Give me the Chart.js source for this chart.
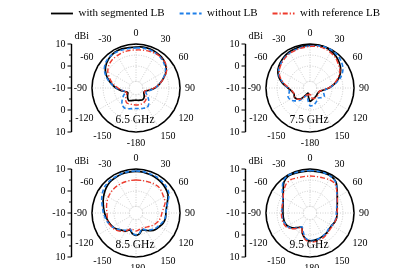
<!DOCTYPE html>
<html><head><meta charset="utf-8">
<script src="https://cdn.jsdelivr.net/npm/chart.js@4/dist/chart.umd.min.js"></script>
<style>
html,body{margin:0;padding:0;background:#fff;width:417px;height:268px;overflow:hidden;}
body{position:relative;}
.pan{position:absolute;}
canvas{display:block;}
</style></head><body>
<script>
// ---------- data ----------
const angles = [0,10,20,30,40,50,60,70,80,90,100,110,120,130,140,150,160,170,180,190,200,210,220,230,240,250,260,270,280,290,300,310,320,330,340,350];
const angleTickLabels = ['0','30','60','90','120','150','-180','-150','-120','-90','-60','-30'];
const gridValues = [-10,-7,0,5,10];
const axisTickValues = [10,0,-10,0,10];
const axisTickSides = [-1,-1,0,1,1];
const axisMinorValues = [5,-5];
const seriesNames = ['with segmented LB','without LB','with reference LB'];
const freqLabels = ['6.5 GHz','7.5 GHz','8.5 GHz','9.5 GHz'];

const seg65  = [8.6,8.9,8.9,8.6,8.2,7.3,5.9,3.4,0.9,-1.4,-4.1,-5.7,-5.9,-5.2,-4.3,-3.9,-4.1,-4.3,-4.5,-4.3,-3.9,-3.4,-4.1,-5.0,-5.7,-5.0,-3.2,-0.9,1.4,3.9,6.1,7.5,8.4,8.9,8.9,8.6];
const noLB65 = [8.2,8.4,8.4,8.2,7.7,6.8,5.5,3.2,0.9,-1.4,-3.6,-5.2,-4.5,-2.7,-0.9,0.2,-0.2,-0.5,-0.7,-0.5,0,0.5,-0.2,-1.8,-3.6,-4.8,-3.6,-1.1,1.6,4.3,6.6,8.0,8.6,8.6,8.4,8.2];
const ref65  = [7.3,7.5,7.7,8.0,8.0,7.5,6.1,3.6,0.9,-1.8,-4.5,-5.9,-5.5,-4.1,-3.0,-2.5,-2.3,-2.3,-2.3,-2.3,-2.3,-2.0,-2.7,-4.1,-5.2,-5.0,-3.6,-1.8,0.5,2.7,4.8,6.1,6.8,7.0,7.3,7.3];

const seg75  = [9.5,9.8,9.8,9.3,8.6,7.5,6.1,4.1,1.4,-1.4,-4.1,-5.5,-5.7,-5.7,-5.5,-5.2,-5.0,-4.5,-3.9,-5.9,-7.5,-6.4,-3.6,-2.3,-1.8,-2.3,-1.6,0,2.7,5.2,6.8,7.7,8.4,8.9,9.1,9.3];
const noLB75 = [9.1,9.5,9.8,9.8,9.5,8.6,7.3,5.0,1.8,-1.4,-3.6,-3.4,-2.5,-3.2,-4.1,-3.6,-2.7,-2.0,-2.0,-4.5,-6.4,-5.5,-2.7,-0.9,0.5,0.7,-0.5,0,2.3,4.8,6.4,7.3,8.0,8.4,8.6,8.9];
const ref75  = [8.9,9.1,9.1,8.6,8.0,6.8,5.7,3.6,1.1,-1.6,-4.3,-5.5,-5.5,-5.2,-5.0,-5.0,-4.8,-5.5,-7.7,-6.8,-6.8,-5.9,-3.4,-2.3,-2.0,-2.3,-1.8,-0.5,2.0,4.5,6.1,7.0,7.7,8.2,8.4,8.6];

const seg85  = [8.9,8.9,8.6,8.4,8.0,7.5,6.8,5.2,4.1,3.6,3.6,3.2,2.3,1.6,0.5,-0.9,-1.8,-0.5,0.2,-0.5,-1.8,-0.5,0.2,1.4,2.3,3.0,3.6,4.3,5.0,5.9,6.8,7.7,8.4,8.6,8.9,8.9];
const noLB85 = [9.1,9.1,8.9,8.9,8.6,8.2,7.3,5.5,4.1,3.6,3.4,2.7,1.8,1.1,0,-1.1,-2.3,-0.7,0,-0.7,-2.3,-0.9,0,1.4,2.5,3.4,4.1,4.8,5.5,6.6,7.7,8.6,8.9,8.9,9.1,9.1];
const ref85  = [5.0,5.0,5.2,5.5,5.7,5.2,4.5,4.1,2.7,1.8,1.4,0.9,0,-0.9,-1.8,-2.3,-2.7,-2.3,-1.8,-2.3,-2.3,-0.5,0.9,2.0,2.7,3.2,3.2,3.2,3.6,4.1,4.5,4.8,5.0,5.0,5.0,5.0];

const seg95  = [9.1,9.1,9.3,9.3,8.4,6.1,4.3,3.2,2.5,2.3,2.3,2.0,1.4,1.4,1.8,2.0,2.3,2.5,2.7,1.8,0,-2.5,-1.4,0.5,1.8,2.3,2.3,2.3,2.5,3.0,4.1,5.9,8.4,9.5,9.3,9.1];
const noLB95 = [9.3,9.3,9.3,9.1,8.2,5.9,4.1,3.0,2.3,2.0,2.0,1.8,1.4,1.1,1.6,2.0,2.3,2.5,2.5,1.6,-0.9,-2.7,-1.1,0.9,2.0,2.5,2.7,2.7,3.0,3.2,4.3,6.4,8.9,9.8,9.5,9.3];
const ref95  = [6.8,6.8,7.0,7.5,7.5,5.9,4.3,3.2,2.7,2.3,2.3,2.0,1.8,1.8,2.3,2.7,3.0,3.2,3.2,2.3,0,-2.3,-0.9,1.1,2.5,3.0,3.0,3.0,3.0,3.2,4.1,5.5,7.0,7.5,7.0,6.8];

// ---------- styles ----------
const FONT = '"Liberation Serif","Times New Roman",serif';
const seriesStyles = [
  {color:'#000000', dash:[], width:1.7, order:3},
  {color:'#1f7fe8', dash:[4,2.5], width:1.6, order:2},
  {color:'#ee3a2c', dash:[5,2,1.2,2], width:1.4, order:1}
];
const R = 44;
const panels = [
  {freq:freqLabels[0], data:[seg65,noLB65,ref65], cx:136, cy:87.5},
  {freq:freqLabels[1], data:[seg75,noLB75,ref75], cx:310, cy:87.5},
  {freq:freqLabels[2], data:[seg85,noLB85,ref85], cx:136, cy:212.7},
  {freq:freqLabels[3], data:[seg95,noLB95,ref95], cx:310, cy:212.7}
];

const decor = {
  id:'decor',
  beforeDatasetsDraw(chart){
    const s = chart.scales.r, ctx = chart.ctx;
    const r0 = s.getDistanceFromCenterForValue(gridValues[1]);
    ctx.save();
    ctx.fillStyle='#fff';
    ctx.beginPath(); ctx.arc(s.xCenter, s.yCenter, r0, 0, 2*Math.PI); ctx.fill();
    ctx.setLineDash([1,1.5]); ctx.strokeStyle='#c4c4c4'; ctx.lineWidth=0.8; ctx.stroke();
    ctx.restore();
  },
  afterDraw(chart, args, opts){
    const s = chart.scales.r, ctx = chart.ctx;
    const ax = Math.round(s.xCenter - 65) + 0.5;
    const top = s.yCenter - s.getDistanceFromCenterForValue(10);
    const bot = s.yCenter + s.getDistanceFromCenterForValue(10);
    ctx.save();
    ctx.strokeStyle='#000'; ctx.lineWidth=1.4;
    ctx.beginPath(); ctx.moveTo(ax, top); ctx.lineTo(ax, bot); ctx.stroke();
    ctx.lineWidth=1;
    ctx.font = '10px ' + FONT; ctx.fillStyle='#000';
    ctx.textAlign='right'; ctx.textBaseline='middle';
    axisTickValues.forEach((v,i)=>{
      const y = s.yCenter + axisTickSides[i]*s.getDistanceFromCenterForValue(v);
      ctx.beginPath(); ctx.moveTo(ax-4, y); ctx.lineTo(ax, y); ctx.stroke();
      ctx.fillText(String(v), ax-6, y);
    });
    axisMinorValues.forEach(v=>{
      [-1,1].forEach(sd=>{
        const y = s.yCenter + sd*s.getDistanceFromCenterForValue(v);
        ctx.beginPath(); ctx.moveTo(ax-2.5, y); ctx.lineTo(ax, y); ctx.stroke();
      });
    });
    ctx.textAlign='left'; ctx.textBaseline='middle';
    ctx.fillText('dBi', ax+3, top-8);
    ctx.font = '11.5px ' + FONT; ctx.textAlign='center';
    ctx.fillText(opts.freq, s.xCenter-1, s.yCenter+32);
    ctx.restore();
  }
};

function buildPanel(p, H){
  const wrap = document.createElement('div'); wrap.className='pan';
  const cv = document.createElement('canvas');
  const W = 196;
  cv.width = W; cv.height = H; cv.style.width = W+'px'; cv.style.height = H+'px';
  wrap.appendChild(cv); document.body.appendChild(wrap);
  const last = gridValues.length-1;
  const chart = new Chart(cv, {
    type:'radar',
    data:{ labels: angles,
      datasets: seriesNames.map((n,i)=>({
        label:n, data:p.data[i], borderColor:seriesStyles[i].color, borderWidth:seriesStyles[i].width,
        borderDash:seriesStyles[i].dash, pointRadius:0, pointHoverRadius:0, fill:false, tension:0.3,
        order:seriesStyles[i].order, backgroundColor:'rgba(0,0,0,0)'
      }))},
    options:{
      responsive:false, maintainAspectRatio:false, animation:false, devicePixelRatio:1,
      layout:{padding:{left:46, right:4, top:0, bottom:0}},
      plugins:{legend:{display:false}, tooltip:{enabled:false}, decor:{freq:p.freq}},
      scales:{ r:{
        min:-10, max:10,
        afterBuildTicks:(scale)=>{ scale.ticks = gridValues.map(v=>({value:v})); },
        ticks:{display:false},
        grid:{ color:(c)=> c.index===last ? '#000' : '#c4c4c4', lineWidth:(c)=> c.index===last ? 1.6 : 0.8 },
        border:{ dash:(c)=> c.index===last ? [] : [1,1.5] },
        angleLines:{ color:(c)=> (c.index%3===0) ? '#c4c4c4' : null, lineWidth:0.8, borderDash:[1,1.5] },
        pointLabels:{
          callback:(lab, i)=> (i%3===0) ? angleTickLabels[i/3] : '',
          font:{family:FONT, size:10}, color:'#000', padding:5
        }
      }}
    },
    plugins:[decor]
  });
  return {chart, wrap};
}

panels.forEach(p=>{
  let H = 126;
  let res = buildPanel(p, H);
  for (let k=0;k<3;k++){
    const r = res.chart.scales.r.drawingArea;
    if (Math.abs(r - R) < 0.25) break;
    H = Math.round(H + 2*(R - r));
    res.chart.destroy(); res.wrap.remove();
    res = buildPanel(p, H);
  }
  const s = res.chart.scales.r;
  res.wrap.style.left = (p.cx - s.xCenter) + 'px';
  res.wrap.style.top = (p.cy - s.yCenter) + 'px';
});

// ---------- legend (own Chart.js chart, only its legend is shown) ----------
(function(){
  const wrap = document.createElement('div'); wrap.className='pan';
  wrap.style.left='7px'; wrap.style.top='-7px';
  const cv = document.createElement('canvas');
  cv.width=417; cv.height=80; cv.style.width='417px'; cv.style.height='80px';
  wrap.appendChild(cv); document.body.appendChild(wrap);
  new Chart(cv, {
    type:'radar',
    data:{labels:angles, datasets: seriesNames.map((n,i)=>({label:n, data:panels[0].data[i], hidden:true,
      borderColor:seriesStyles[i].color, borderDash:seriesStyles[i].dash, borderWidth:1.8, pointRadius:0}))},
    options:{
      responsive:false, maintainAspectRatio:false, animation:false, devicePixelRatio:1,
      scales:{r:{display:false}},
      plugins:{ tooltip:{enabled:false},
        legend:{ display:true, position:'top',
          labels:{ usePointStyle:true, pointStyleWidth:22, padding:15, color:'#000',
            font:{family:FONT, size:11},
            generateLabels:(ch)=> ch.data.datasets.map((d,i)=>({
              text:d.label, fillStyle:d.borderColor, strokeStyle:d.borderColor, lineWidth:1.8,
              lineDash:d.borderDash, pointStyle:'line', hidden:false, datasetIndex:i, fontColor:'#000'
            }))
          }
        }
      }
    }
  });
})();
</script>
</body></html>
